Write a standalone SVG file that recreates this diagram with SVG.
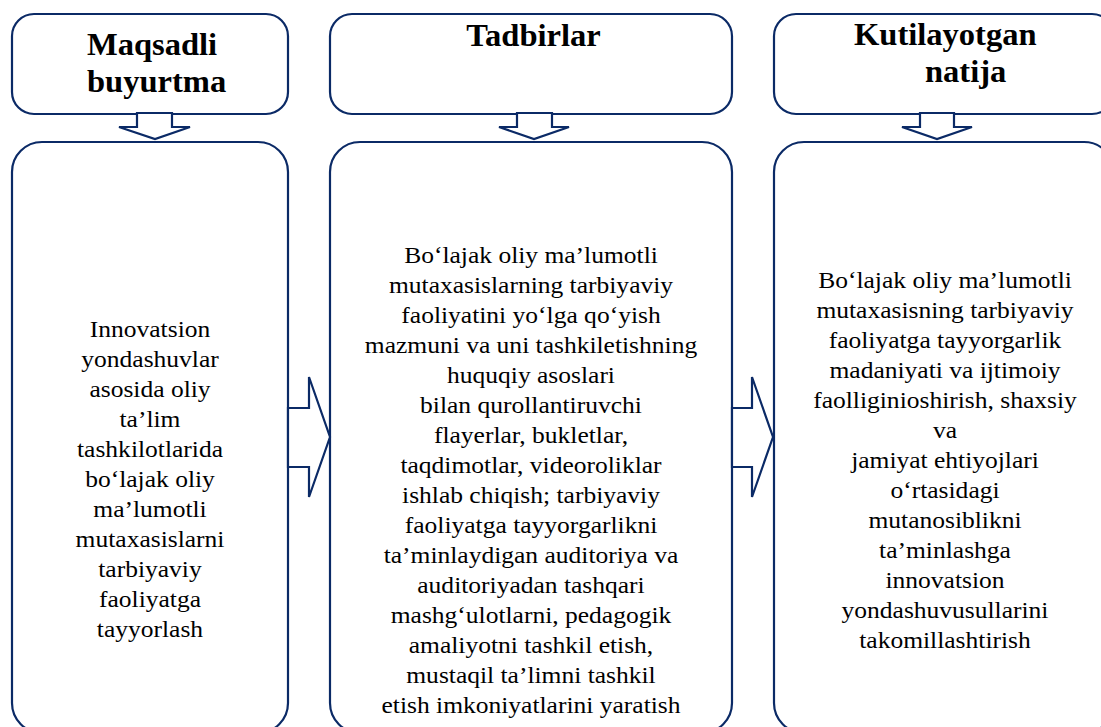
<svg xmlns="http://www.w3.org/2000/svg" width="1101" height="727" viewBox="0 0 1101 727">
<style>
.box{fill:#fff;stroke:#0b2a66;stroke-width:2.2}
.arr{fill:#fff;stroke:#0b2a66;stroke-width:2.2;stroke-linejoin:miter}
.t{font-family:'Liberation Serif','Times New Roman',Times,'DejaVu Serif',serif;font-weight:bold;font-size:31px;fill:#000}
.b{font-family:'Liberation Serif','Times New Roman',Times,'DejaVu Serif',serif;font-size:23px;fill:#000;text-anchor:middle}
</style>
<rect width="1101" height="727" fill="#fff"/>
<g id="head-maqsad">
<rect class="box" x="12" y="14" width="276" height="100" rx="22"/>
<g transform="translate(87,0) scale(1.05,1)" font-family="Liberation Serif, serif"><text class="t" x="0" y="55">Maqsadli</text><text class="t" x="0" y="92">buyurtma</text></g>
</g>
<g id="head-tadbir">
<rect class="box" x="330" y="14" width="402" height="100" rx="22"/>
<g transform="translate(533.5,0) scale(1.05,1)"><text class="t" x="0" y="46" text-anchor="middle">Tadbirlar</text></g>
</g>
<g id="head-natija">
<rect class="box" x="774" y="14" width="340" height="100" rx="22"/>
<g transform="translate(854,0) scale(1.05,1)"><text class="t" x="0" y="45">Kutilayotgan</text><text class="t" x="67.6" y="82">natija</text></g>
</g>
<g id="body-maqsad">
<rect class="box" x="12" y="142" width="276" height="591" rx="30"/>
<g transform="translate(150,0) scale(1.11,1)">
<text class="b" x="0" y="337">Innovatsion</text>
<text class="b" x="0" y="367">yondashuvlar</text>
<text class="b" x="0" y="397">asosida oliy</text>
<text class="b" x="0" y="427">ta’lim</text>
<text class="b" x="0" y="457">tashkilotlarida</text>
<text class="b" x="0" y="487">bo‘lajak oliy</text>
<text class="b" x="0" y="517">ma’lumotli</text>
<text class="b" x="0" y="547">mutaxasislarni</text>
<text class="b" x="0" y="577">tarbiyaviy</text>
<text class="b" x="0" y="607">faoliyatga</text>
<text class="b" x="0" y="637">tayyorlash</text>
</g>
</g>
<g id="body-tadbir">
<rect class="box" x="330" y="142" width="402" height="591" rx="30"/>
<g transform="translate(531,0) scale(1.11,1)">
<text class="b" x="0" y="263">Bo‘lajak oliy ma’lumotli</text>
<text class="b" x="0" y="293">mutaxasislarning tarbiyaviy</text>
<text class="b" x="0" y="323">faoliyatini yo‘lga qo‘yish</text>
<text class="b" x="0" y="353">mazmuni va uni tashkiletishning</text>
<text class="b" x="0" y="383">huquqiy asoslari</text>
<text class="b" x="0" y="413">bilan qurollantiruvchi</text>
<text class="b" x="0" y="443">flayerlar, bukletlar,</text>
<text class="b" x="0" y="473">taqdimotlar, videoroliklar</text>
<text class="b" x="0" y="503">ishlab chiqish; tarbiyaviy</text>
<text class="b" x="0" y="533">faoliyatga tayyorgarlikni</text>
<text class="b" x="0" y="563">ta’minlaydigan auditoriya va</text>
<text class="b" x="0" y="593">auditoriyadan tashqari</text>
<text class="b" x="0" y="623">mashg‘ulotlarni, pedagogik</text>
<text class="b" x="0" y="653">amaliyotni tashkil etish,</text>
<text class="b" x="0" y="683">mustaqil ta’limni tashkil</text>
<text class="b" x="0" y="713">etish imkoniyatlarini yaratish</text>
</g>
</g>
<g id="body-natija">
<rect class="box" x="774" y="142" width="340" height="591" rx="30"/>
<g transform="translate(945,0) scale(1.11,1)">
<text class="b" x="0" y="288">Bo‘lajak oliy ma’lumotli</text>
<text class="b" x="0" y="318">mutaxasisning tarbiyaviy</text>
<text class="b" x="0" y="348">faoliyatga tayyorgarlik</text>
<text class="b" x="0" y="378">madaniyati va ijtimoiy</text>
<text class="b" x="0" y="408">faolliginioshirish, shaxsiy</text>
<text class="b" x="0" y="438">va</text>
<text class="b" x="0" y="468">jamiyat ehtiyojlari</text>
<text class="b" x="0" y="498">o‘rtasidagi</text>
<text class="b" x="0" y="528">mutanosiblikni</text>
<text class="b" x="0" y="558">ta’minlashga</text>
<text class="b" x="0" y="588">innovatsion</text>
<text class="b" x="0" y="618">yondashuvusullarini</text>
<text class="b" x="0" y="648">takomillashtirish</text>
</g>
</g>
<g id="connectors">
<polygon class="arr" points="137,113 137,127 119,127 155,139 190,127 172,127 172,113"/>
<polygon class="arr" points="517,113 517,127 499,127 534,139 569,127 552,127 552,113"/>
<polygon class="arr" points="920,113 920,127 902,127 937,139 972,127 954,127 954,113"/>
<polygon class="arr" points="288,408 309,408 309,377 330,437 309,497 309,467 288,467"/>
<polygon class="arr" points="732,408 752,408 752,377 773,437 752,497 752,467 732,467"/>
</g>
</svg>
